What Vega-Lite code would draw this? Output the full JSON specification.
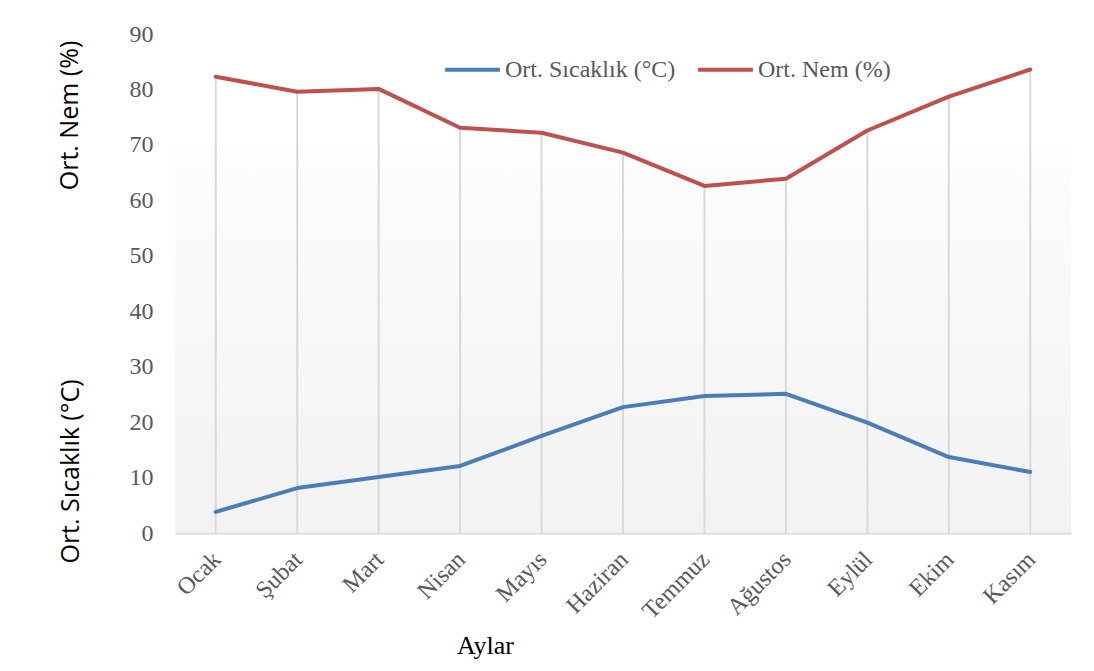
{
  "$schema": "https://vega.github.io/schema/vega-lite/v6.json",
  "width": 896,
  "height": 499,
  "autosize": {"type": "none"},
  "padding": {"left": 175, "top": 34, "right": 23, "bottom": 138},
  "background": "white",
  "config": {
    "view": {"stroke": null},
    "font": "Liberation Serif"
  },
  "datasets": {
    "aylik": [
      {"ay": "Ocak", "sicaklik": 3.8, "nem": 82.3},
      {"ay": "Şubat", "sicaklik": 8.1, "nem": 79.6},
      {"ay": "Mart", "sicaklik": 10.1, "nem": 80.1},
      {"ay": "Nisan", "sicaklik": 12.1, "nem": 73.1},
      {"ay": "Mayıs", "sicaklik": 17.5, "nem": 72.2},
      {"ay": "Haziran", "sicaklik": 22.7, "nem": 68.6},
      {"ay": "Temmuz", "sicaklik": 24.7, "nem": 62.6},
      {"ay": "Ağustos", "sicaklik": 25.1, "nem": 63.9},
      {"ay": "Eylül", "sicaklik": 19.9, "nem": 72.6},
      {"ay": "Ekim", "sicaklik": 13.7, "nem": 78.7},
      {"ay": "Kasım", "sicaklik": 11.0, "nem": 83.6}
    ],
    "zemin": [{"alt": 0, "ust": 70}]
  },
  "layer": [
    {
      "data": {"name": "zemin"},
      "mark": {
        "type": "rect",
        "fill": {
          "gradient": "linear", "x1": 0, "y1": 0, "x2": 0, "y2": 1,
          "stops": [{"offset": 0, "color": "#fdfdfd"}, {"offset": 1, "color": "#f2f2f2"}]
        }
      },
      "encoding": {
        "y": {"field": "ust", "type": "quantitative", "axis": null, "scale": {"domain": [0, 90]}},
        "y2": {"field": "alt"}
      }
    },
    {
      "data": {"name": "aylik"},
      "mark": {"type": "rule", "color": "#d9d9d9", "strokeWidth": 2},
      "encoding": {
        "x": {
          "field": "ay", "type": "nominal", "sort": null, "bandPosition": 0.5,
          "scale": {"type": "band", "paddingInner": 0, "paddingOuter": 0},
          "axis": {
            "title": "Aylar", "titleFont": "Liberation Serif", "titleFontSize": 26, "titleFontWeight": "normal",
            "titleColor": "black", "titleX": 310, "titleY": 120, "titleAnchor": "middle", "titleBaseline": "alphabetic",
            "labelAngle": -45, "labelFont": "Liberation Serif", "labelFontSize": 24, "labelColor": "#595959",
            "labelPadding": 14, "labelOffset": -7, "ticks": false, "domainColor": "#d9d9d9", "domainWidth": 2, "grid": false
          }
        },
        "y": {
          "field": "nem", "type": "quantitative", "scale": {"domain": [0, 90]},
          "axis": {
            "title": "Ort. Sıcaklık (°C)", "values": [0,10,20,30,40,50,60,70,80,90],
            "labelFont": "Liberation Serif", "labelFontSize": 24, "labelColor": "#595959", "labelPadding": 22,
            "ticks": false, "domain": false, "grid": false,
            "titleFont": "Open Sans", "titleFontSize": 25, "titleFontWeight": "normal", "titleColor": "black",
            "titleX": -97, "titleY": 437, "titleAngle": -90, "titleAnchor": "middle", "titleBaseline": "alphabetic"
          }
        },
        "y2": {"datum": 0}
      }
    },
    {
      "data": {"name": "aylik"},
      "transform": [{"fold": ["sicaklik", "nem"], "as": ["seri", "deger"]}],
      "mark": {"type": "line", "strokeWidth": 4, "strokeCap": "round", "strokeJoin": "round"},
      "encoding": {
        "x": {"field": "ay", "type": "nominal", "sort": null, "bandPosition": 0.5},
        "y": {
          "field": "deger", "type": "quantitative",
          "axis": {
            "orient": "left",
            "title": "Ort. Nem (%)", "labels": false, "ticks": false, "domain": false, "grid": false,
            "titleFont": "Open Sans", "titleFontSize": 25, "titleFontWeight": "normal", "titleColor": "black",
            "titleX": -98, "titleY": 81, "titleAngle": -90, "titleAnchor": "middle", "titleBaseline": "alphabetic"
          }
        },
        "color": {
          "field": "seri", "type": "nominal",
          "scale": {"domain": ["sicaklik", "nem"], "range": ["#4a7ebb", "#c0504d"]},
          "legend": {
            "title": null, "orient": "none", "direction": "horizontal", "legendX": 268, "legendY": 6,
            "labelExpr": "datum.value == 'sicaklik' ? 'Ort. Sıcaklık (°C)' : 'Ort. Nem (%)'",
            "symbolType": "stroke", "symbolStrokeWidth": 4, "symbolSize": 3000,
            "labelFont": "Liberation Serif", "labelFontSize": 24, "labelColor": "#595959", "labelOffset": 3,
            "labelLimit": 0, "columnPadding": 14
          }
        }
      }
    }
  ],
  "resolve": {"axis": {"y": "independent"}}
}
